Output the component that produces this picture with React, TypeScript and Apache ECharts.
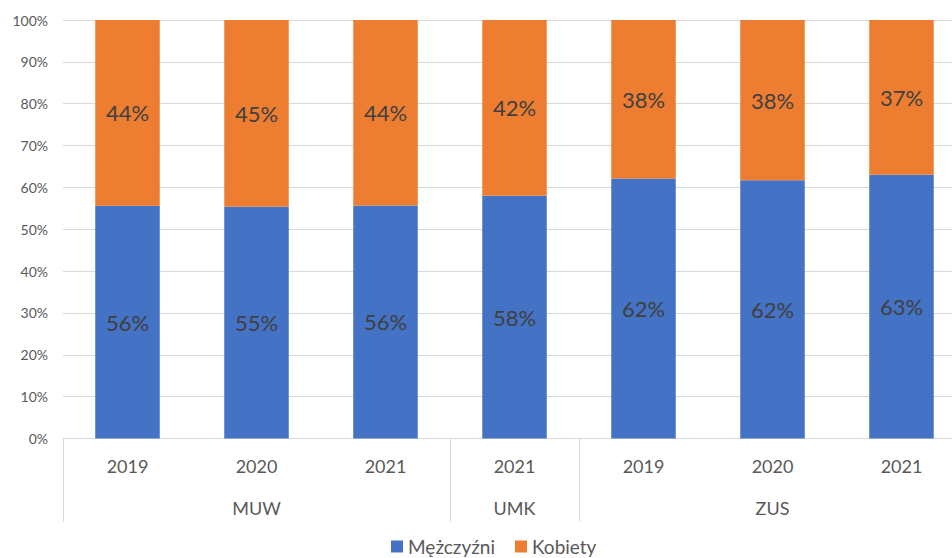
import React, { useEffect, useRef } from "react";
import * as echarts from "echarts";

const groups = ["MUW", "MUW", "MUW", "UMK", "ZUS", "ZUS", "ZUS"];
const years = ["2019", "2020", "2021", "2021", "2019", "2020", "2021"];
const groupLabelIndex = [1, 3, 5];
const groupBoundaryIndex = [0, 3, 4];
const men = [55.6, 55.4, 55.7, 58.0, 62.1, 61.7, 63.0];
const women = [44.4, 44.6, 44.3, 42.0, 37.9, 38.3, 37.0];
const yTicks = [0, 10, 20, 30, 40, 50, 60, 70, 80, 90, 100];

const FONT = "Lato, 'Noto Sans', sans-serif";

export default function App() {
  const ref = useRef<HTMLDivElement>(null);
  useEffect(() => {
    if (!ref.current) return;
    const chart = echarts.init(ref.current, null, { renderer: "svg" });
    const cats = groups.map((g, i) => `${g}|${years[i]}`);
    const labelFmt = (p: any) => `${Math.round(p.value)}%`;
    chart.setOption({
      animation: false,
      textStyle: { fontFamily: FONT },
      grid: { left: 63, top: 20, right: 0, bottom: 119.5 },
      legend: {
        data: ["Mężczyźni", "Kobiety"],
        left: 391,
        top: 537,
        padding: 0,
        icon: "rect",
        itemWidth: 12,
        itemHeight: 12,
        itemGap: 20,
        textStyle: { fontSize: 19, lineHeight: 18, color: "#595959", fontFamily: FONT },
      },
      xAxis: {
        type: "category",
        data: cats,
        axisLine: { show: true, lineStyle: { color: "#d9d9d9", width: 1 } },
        axisTick: {
          show: true,
          length: 83,
          interval: (i: number) => groupBoundaryIndex.includes(i),
          lineStyle: { color: "#d9d9d9", width: 1 },
        },
        axisLabel: {
          interval: 0,
          margin: 6,
          fontSize: 18,
          lineHeight: 42,
          color: "#595959",
          fontFamily: FONT,
          formatter: (_v: string, i: number) =>
            years[i] + (groupLabelIndex.includes(i) ? "\n" + groups[i] : ""),
        },
      },
      yAxis: {
        type: "value",
        min: yTicks[0],
        max: yTicks[yTicks.length - 1],
        interval: yTicks[1] - yTicks[0],
        axisLine: { show: false },
        axisTick: { show: false },
        splitLine: { lineStyle: { color: "#d9d9d9", width: 1 } },
        axisLabel: {
          formatter: "{value}%",
          fontSize: 14,
          color: "#595959",
          margin: 15,
          fontFamily: FONT,
        },
      },
      series: [
        {
          name: "Mężczyźni",
          type: "bar",
          stack: "total",
          barWidth: "50%",
          data: men,
          itemStyle: { color: "#4472C4" },
          label: {
            show: true,
            position: "inside",
            formatter: labelFmt,
            fontSize: 22,
            color: "#404040",
            fontFamily: FONT,
          },
        },
        {
          name: "Kobiety",
          type: "bar",
          stack: "total",
          barWidth: "50%",
          data: women,
          itemStyle: { color: "#ED7D31" },
          label: {
            show: true,
            position: "inside",
            formatter: labelFmt,
            fontSize: 22,
            color: "#404040",
            fontFamily: FONT,
          },
        },
      ],
    });
    return () => chart.dispose();
  }, []);
  return (
    <div style={{ position: "absolute", left: 0, top: 0, width: 952, height: 558, overflow: "hidden" }}>
      <div ref={ref} style={{ width: 966, height: 558 }} />
    </div>
  );
}
